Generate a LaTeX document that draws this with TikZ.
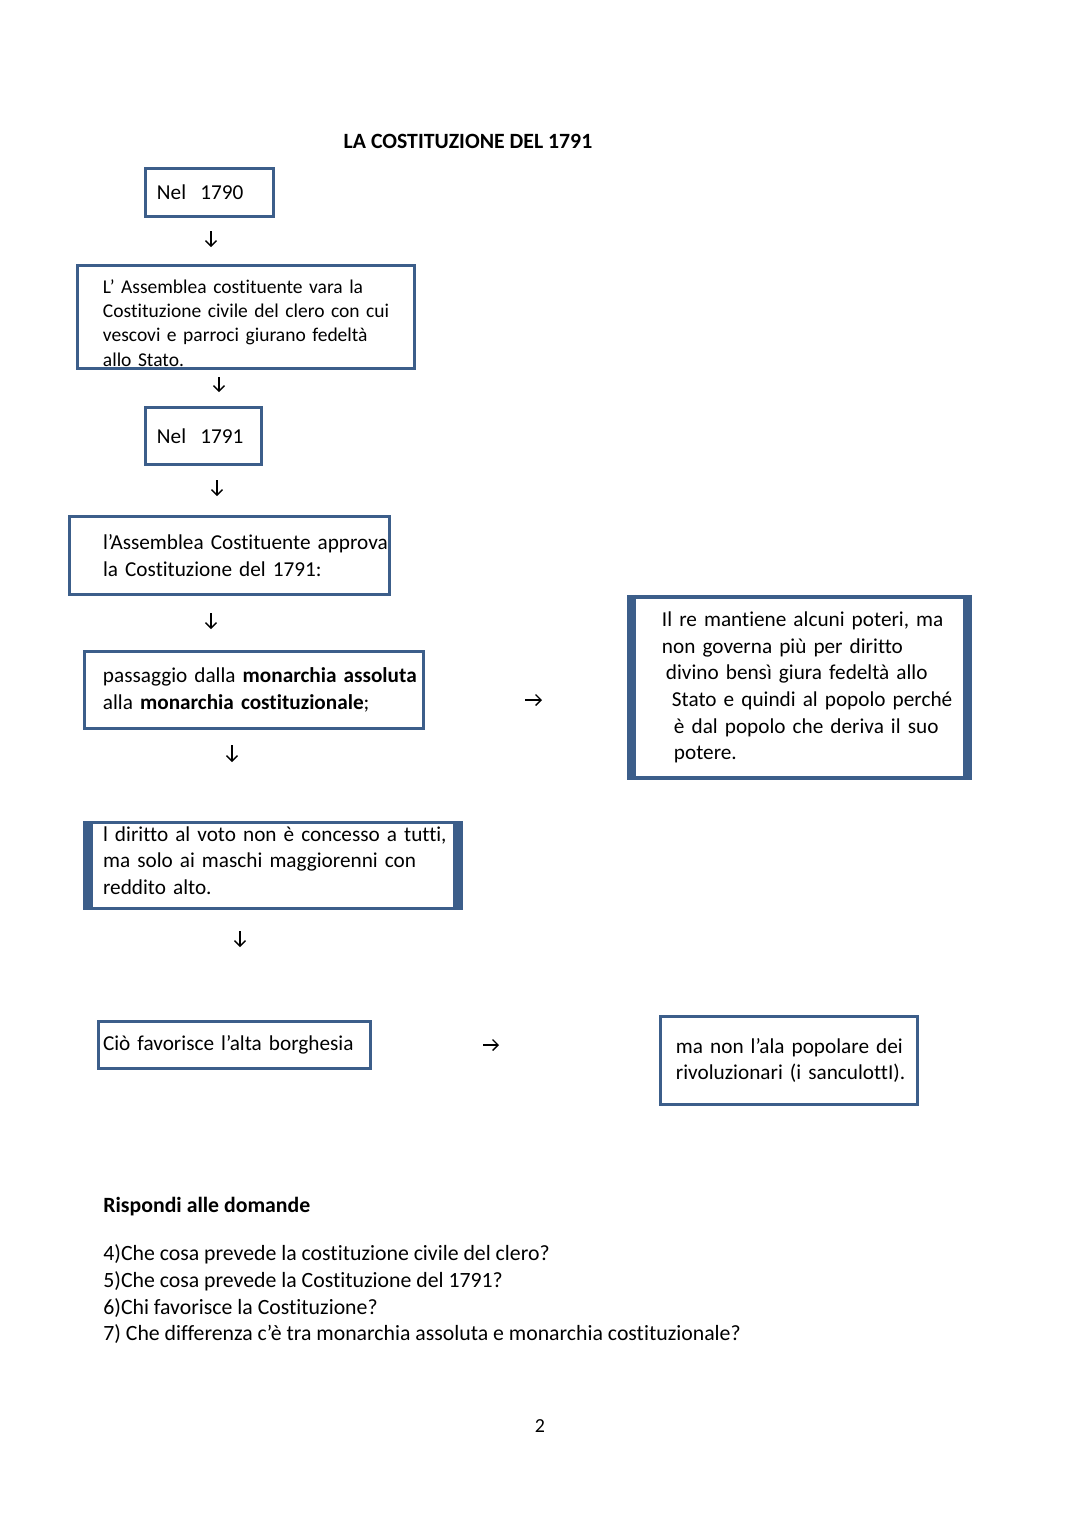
\documentclass[tikz,border=0pt]{standalone}
\usepackage{fontspec}
\setmainfont{Carlito}[Ligatures=NoCommon]
\usepackage{tikz}
\usetikzlibrary{arrows.meta,positioning}
\definecolor{boxblue}{RGB}{60,94,138}

\begin{document}
\begin{tikzpicture}[x=0.551pt, y=-0.551pt, node distance=66.12pt]
    % Define styles
    \tikzstyle{box} = [rectangle, draw=boxblue, line width=1.65pt, align=left, inner ysep=0pt, font=\fontsize{11.7}{14.65}\selectfont]
    \tikzstyle{small} = [font=\fontsize{10.75}{13.4}\selectfont]
    \tikzstyle{side} = [draw=boxblue]
    \tikzstyle{glyph} = [-{Straight Barb[length=3pt,width=6pt]}, line width=0.7pt]
    \tikzstyle{plain} = [inner sep=0pt, align=left, font=\fontsize{12}{14.65}\selectfont]

    \useasboundingbox (0,0) rectangle (1080,1527);

    % Nodes
    \node[plain, font=\fontsize{12}{14.65}\selectfont\bfseries, anchor=base] (title) at (468,148) {LA COSTITUZIONE DEL 1791};
    \node[box, minimum height=26.4pt, inner xsep=6.3pt, text width=57.9pt] (nel1790) at (209.5,192.5) {Nel\ \ 1790};
    \node[box, small, minimum height=56.8pt, inner xsep=14.05pt, text width=157.6pt, below of=nel1790, xshift=20.1pt, yshift=-2.5pt] (clero) {\rule{0pt}{14pt}\mbox{L’ Assemblea costituente vara la}\\ \mbox{Costituzione civile del clero con cui}\\ \mbox{vescovi e parroci giurano fedeltà}\\ allo Stato.};
    \node[box, minimum height=31.4pt, inner xsep=6.3pt, text width=51.3pt, below of=clero, xshift=-23.4pt, yshift=0.55pt] (nel1791) {Nel\ \ 1791};
    \node[box, minimum height=43pt, inner xsep=18.5pt, text width=139.3pt, below of=nel1791, xshift=14.3pt, yshift=0.3pt] (approva) {\mbox{l’Assemblea Costituente approva}\\ \mbox{la Costituzione del 1791:}};
    \node[box, minimum height=42.4pt, inner xsep=10.2pt, text width=166.4pt, below of=approva, xshift=13.5pt, yshift=-8pt] (passaggio) {\mbox{passaggio dalla \textbf{monarchia assoluta}}\\ \mbox{alla \textbf{monarchia costituzionale};}};
    \node[box, line width=2.5pt, minimum height=99.5pt, inner xsep=18pt, text width=151.6pt, right of=passaggio, xshift=234.5pt, yshift=1.4pt] (re) {\mbox{Il re mantiene alcuni poteri, ma}\\ \mbox{non governa più per diritto}\\ \hspace*{2.2pt}\mbox{divino bensì giura fedeltà allo}\\ \hspace*{5.5pt}\mbox{Stato e quindi al popolo perché}\\ \hspace*{6.6pt}\mbox{è dal popolo che deriva il suo}\\ \hspace*{6.6pt}potere.};
    \node[box, minimum height=47.4pt, inner xsep=10.2pt, text width=187.3pt, below of=passaggio, xshift=10.5pt, yshift=-30.6pt] (voto) {\mbox{l diritto al voto non è concesso a tutti,}\\ \mbox{ma solo ai maschi maggiorenni con}\\ reddito alto.\rule[-5.5pt]{0pt}{0pt}};
    \node[box, minimum height=25.9pt, inner xsep=2.5pt, text width=144.9pt, below of=voto, xshift=-21.2pt, yshift=-32.8pt] (borghesia) {\mbox{Ciò favorisce l’alta borghesia}};
    \node[box, minimum height=48.5pt, inner xsep=8.5pt, text width=124.6pt, right of=borghesia, xshift=239.4pt, yshift=-8.5pt] (sanculotti) {\mbox{ma non l’ala popolare dei}\\ \mbox{rivoluzionari (i sanculottI).}};

    \node[plain, font=\fontsize{12}{14.65}\selectfont\bfseries, anchor=base west] (domande) at (103,1212) {Rispondi alle domande};
    \node[plain, anchor=base west] (q4) at (103,1260) {4)Che cosa prevede la costituzione civile del clero?};
    \node[plain, anchor=base west] (q5) at (103,1287) {5)Che cosa prevede la Costituzione del 1791?};
    \node[plain, anchor=base west] (q6) at (103,1314) {6)Chi favorisce la Costituzione?};
    \node[plain, anchor=base west] (q7) at (103,1340) {7) Che differenza c’è tra monarchia assoluta e monarchia costituzionale?};
    \node[plain, font=\fontsize{11}{13.4}\selectfont, anchor=base] (pagina) at (540,1432) {2};

    % Thick sides
    \draw[side, line width=5pt] ([xshift=2.5pt]re.north west) -- ([xshift=2.5pt]re.south west);
    \draw[side, line width=5pt] ([xshift=-2.5pt]re.north east) -- ([xshift=-2.5pt]re.south east);
    \draw[side, line width=5.5pt] ([xshift=2.75pt]voto.north west) -- ([xshift=2.75pt]voto.south west);
    \draw[side, line width=5.5pt] ([xshift=-2.75pt]voto.north east) -- ([xshift=-2.75pt]voto.south east);

    % Arrow ends
    \coordinate (f1a) at (211,231);  \coordinate (f1b) at (211,247);
    \coordinate (f2a) at (219,377);  \coordinate (f2b) at (219,392);
    \coordinate (f3a) at (217,480);  \coordinate (f3b) at (217,496);
    \coordinate (f4a) at (211,613);  \coordinate (f4b) at (211,629);
    \coordinate (f5a) at (525,700);  \coordinate (f5b) at (542,700);
    \coordinate (f6a) at (232,745);  \coordinate (f6b) at (232,762);
    \coordinate (f7a) at (240,931);  \coordinate (f7b) at (240,947);
    \coordinate (f8a) at (483,1045); \coordinate (f8b) at (499,1045);

    % Connections
    \draw[glyph] (f1a) -- (f1b);
    \draw[glyph] (f2a) -- (f2b);
    \draw[glyph] (f3a) -- (f3b);
    \draw[glyph] (f4a) -- (f4b);
    \draw[glyph] (f5a) -- (f5b);
    \draw[glyph] (f6a) -- (f6b);
    \draw[glyph] (f7a) -- (f7b);
    \draw[glyph] (f8a) -- (f8b);
\end{tikzpicture}
\end{document}
